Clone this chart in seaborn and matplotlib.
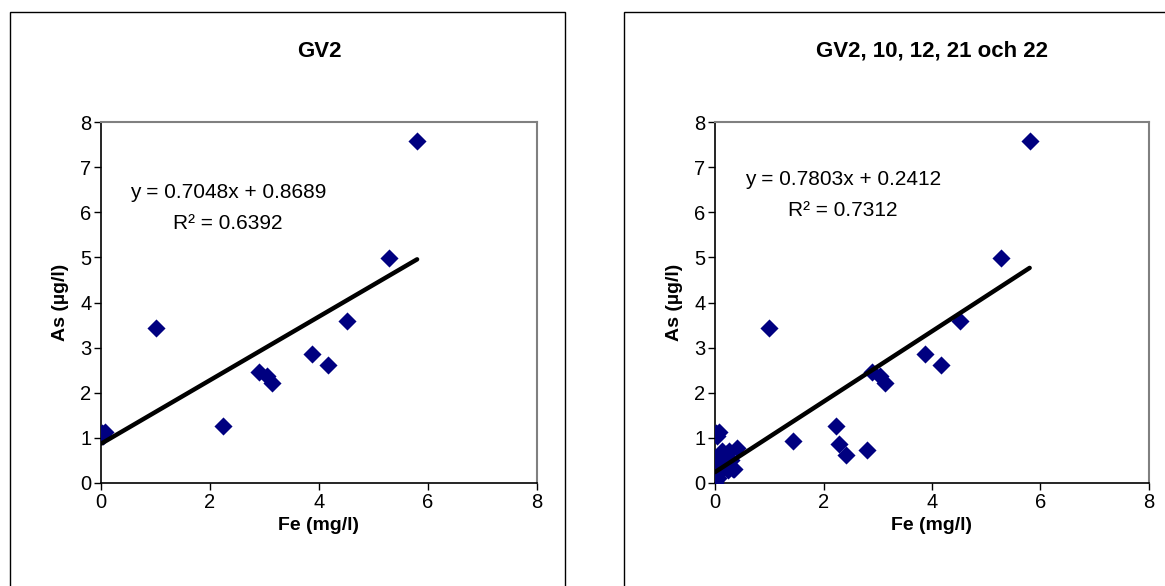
# plot.py
# Scatter of As against Fe for GV2 and for GV2, 10, 12, 21 och 22, with trend lines

import numpy as np
import matplotlib
matplotlib.use("Agg")
import matplotlib.pyplot as plt
import matplotlib.patches as patches
import pandas as pd
import seaborn as sns

# GV2 samples, Fe (mg/l) and As (ug/l)
gv2_fe = [0.01, 0.07, 0.03, 1.0, 2.23, 2.9, 3.05, 3.13, 3.88, 4.16, 4.52, 5.28, 5.8]
gv2_as = [1.1, 1.13, 1.05, 3.43, 1.26, 2.47, 2.38, 2.22, 2.86, 2.62, 3.59, 4.98, 7.57]

# extra samples from GV10, 12, 21 and 22
extra_fe = [1.43, 2.28, 2.41, 2.80,
            0.0, 0.0, 0.0, 0.01, 0.02, 0.0, 0.05, 0.03, 0.1, 0.12, 0.15,
            0.2, 0.25, 0.3, 0.35, 0.4, 0.34, 0.24, 0.28, 0.08, 0.05, 0.02]
extra_as = [0.92, 0.87, 0.62, 0.74,
            0.0, 0.05, 0.1, 0.15, 0.2, 0.55, 0.5, 0.3, 0.4, 0.7, 0.6,
            0.65, 0.72, 0.5, 0.32, 0.77, 0.3, 0.28, 0.35, 0.25, 0.1, 0.45]

all_fe = gv2_fe + extra_fe
all_as = gv2_as + extra_as

# trend line coefficients as printed on the charts
titles = ["GV2", "GV2, 10, 12, 21 och 22"]
slopes = [0.7048, 0.7803]
intercepts = [0.8689, 0.2412]
r2_values = [0.6392, 0.7312]
eq_pos = [(2.33, 6.43, 5.76), (2.36, 6.72, 6.03)]

x_ticks = [0, 2, 4, 6, 8]
y_ticks = [0, 1, 2, 3, 4, 5, 6, 7, 8]

sns.set_theme(style="white")
plt.rcParams['font.family'] = ['Liberation Sans', 'DejaVu Sans']
plt.rcParams['text.color'] = 'black'
plt.rcParams['axes.labelcolor'] = 'black'

fig = plt.figure(figsize=(11.65, 5.86), dpi=100)

# the two outer chart frames (Excel chart area)
fig.patches.append(patches.Rectangle((10/1165, -0.1), 555/1165, 1.1 - 12/586, fill=False,
                                     edgecolor="black", linewidth=1, transform=fig.transFigure))
fig.patches.append(patches.Rectangle((624/1165, -0.1), 0.5, 1.1 - 12/586, fill=False,
                                     edgecolor="black", linewidth=1, transform=fig.transFigure))

ax1 = fig.add_axes([101/1165, 1 - 483/586, 436/1165, 361/586])
ax2 = fig.add_axes([715/1165, 1 - 483/586, 434/1165, 361/586])

datasets = [pd.DataFrame({"Fe": gv2_fe, "As": gv2_as}),
            pd.DataFrame({"Fe": all_fe, "As": all_as})]

for i, ax in enumerate([ax1, ax2]):
    df = datasets[i]
    sns.scatterplot(data=df, x="Fe", y="As", ax=ax, marker="D", s=85,
                    color="#000080", linewidth=0, zorder=3)

    # trend line across the range of the data
    line = pd.DataFrame({"Fe": [df["Fe"].min(), df["Fe"].max()]})
    line["As"] = slopes[i] * line["Fe"] + intercepts[i]
    sns.lineplot(data=line, x="Fe", y="As", ax=ax, color="black", linewidth=3.2, zorder=4)

    ex, ey, ry = eq_pos[i]
    ax.text(ex, ey, "y = %.4fx + %.4f" % (slopes[i], intercepts[i]),
            ha="center", va="center", fontsize=15)
    ax.text(ex, ry, "R² = %.4f" % r2_values[i], ha="center", va="center", fontsize=15)

    ax.set_xlim(0, 8)
    ax.set_ylim(0, 8)
    ax.set_xticks(x_ticks)
    ax.set_yticks(y_ticks)
    ax.tick_params(axis="both", labelsize=14.5, length=5, width=1, direction="out",
                   bottom=True, left=True, colors="black", pad=2)
    ax.set_xlabel("Fe (mg/l)", fontsize=14, fontweight="bold", labelpad=4)
    ax.set_ylabel("As (µg/l)", fontsize=14, fontweight="bold", labelpad=8)
    ax.set_title(titles[i], fontsize=16, fontweight="bold", va="center", pad=0,
                 y=(483 - 51) / 361)

    for side in ["top", "right"]:
        ax.spines[side].set_color("#808080")
        ax.spines[side].set_linewidth(1.5)
    for side in ["left", "bottom"]:
        ax.spines[side].set_color("black")
        ax.spines[side].set_linewidth(1.2)
    ax.set_facecolor("white")
    ax.grid(False)

plt.savefig("out.png", dpi=100)
